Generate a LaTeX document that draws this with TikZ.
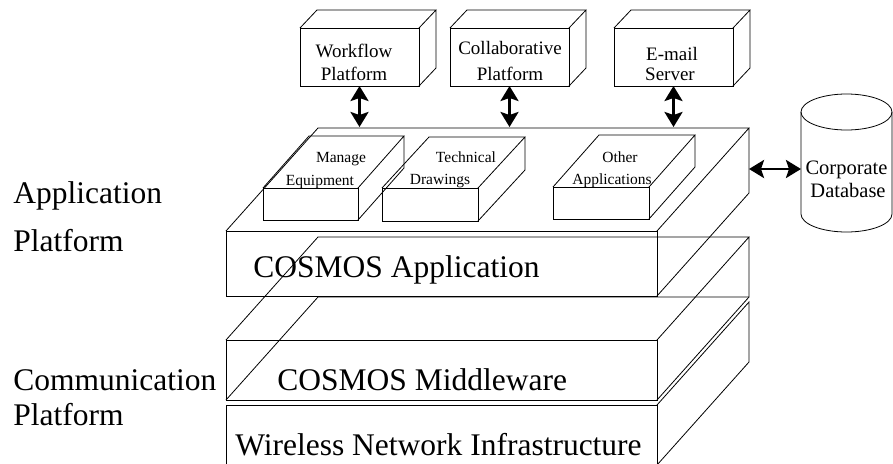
\documentclass[tikz,border=0pt]{standalone}
\usepackage{fontspec}
\setmainfont{Liberation Serif}
\usetikzlibrary{arrows.meta}
\newcommand\cubefaces[5]{% name, dx, dy, w, h
  \draw (#1.north west) -- ++(#2,#3) -- ++(#4,0) -- (#1.north east)
        (#1.north east) ++(#2,#3) -- ++(0,#5) -- (#1.south east);}
\begin{document}
\begin{tikzpicture}[x=1pt,y=-1pt, line width=0.8pt,
  face/.style={draw, rectangle, inner sep=0pt, outer sep=0pt},
  big/.style={font=\fontsize{31.5}{36}\selectfont, inner sep=0pt, anchor=base west},
  mid/.style={font=\fontsize{19}{22}\selectfont, inner sep=0pt, anchor=base},
  small/.style={font=\fontsize{15.5}{18}\selectfont, inner sep=0pt, anchor=base},
  dbt/.style={font=\fontsize{20.5}{24}\selectfont, inner sep=0pt, anchor=base},
  dblarrow/.style={line width=2.8pt, {Stealth[length=15pt,width=18pt,inset=3pt]}-{Stealth[length=15pt,width=18pt,inset=3pt]}}]
\useasboundingbox (0,0) rectangle (893,463);

% top boxes
\node[face, minimum width=119pt, minimum height=58pt] (wf) at (359.5,57) {};
\cubefaces{wf}{17}{-18}{119}{58}
\node[face, minimum width=119pt, minimum height=58pt] (cp) at (509.5,57) {};
\cubefaces{cp}{17}{-18}{119}{58}
\node[face, minimum width=119pt, minimum height=58pt] (em) at (673.5,57) {};
\cubefaces{em}{17}{-18}{119}{58}

% slabs
\node[face, minimum width=431pt, minimum height=65pt] (app) at (441.5,263.5) {};
\cubefaces{app}{92}{-103}{431}{65}
\node[face, minimum width=431pt, minimum height=60pt] (mw) at (441.5,370) {};
\cubefaces{mw}{92}{-103}{431}{60}
\draw (mw.south west) -- ++(92,-103) -- ++(431,0);
\node[face, minimum width=431pt, minimum height=60pt] (wl) at (441.5,435) {};
\draw (wl.north east) -- ++(92,-103) -- ++(0,60) -- (wl.south east);

% small application boxes
\node[face, minimum width=95pt, minimum height=32pt] (me) at (310.5,204) {};
\cubefaces{me}{46}{-52}{95}{32}
\node[face, minimum width=96pt, minimum height=33pt] (td) at (430,204.5) {};
\cubefaces{td}{47}{-51}{96}{33}
\node[face, minimum width=96pt, minimum height=32pt] (oa) at (601,203) {};
\cubefaces{oa}{46}{-52}{96}{32}

% database cylinder
\draw (846.5,112) ellipse [x radius=45.5, y radius=18];
\draw (801,112) -- (801,214) arc[start angle=180, end angle=0, x radius=45.5, y radius=18] -- (892,112);
\coordinate (dbin) at (801,169);

% arrows
\coordinate (apptop) at (318,127);
\coordinate (appside) at (749,169);
\draw[dblarrow] (wf.south) -- (wf.south |- apptop);
\draw[dblarrow] (cp.south) -- (cp.south |- apptop);
\draw[dblarrow] (em.south) -- (em.south |- apptop);
\draw[dblarrow] (appside) -- (dbin);

% texts
\node[mid] (wf1) at (354,57) {Workflow};
\node[mid] (wf2) at (354,80) {Platform};
\node[mid] (cp1) at (510,54) {Collaborative};
\node[mid] (cp2) at (510,80) {Platform};
\node[mid] (em1) at (672,60) {E-mail};
\node[mid] (em2) at (670,80) {Server};
\node[small] (me1) at (341,162) {Manage};
\node[small] (me2) at (320,185) {Equipment};
\node[small] (td1) at (466,162) {Technical};
\node[small] (td2) at (440,184) {Drawings};
\node[small] (oa1) at (620,162) {Other};
\node[small] (oa2) at (612,184) {Applications};
\node[dbt] (db1) at (846.5,174) {Corporate};
\node[dbt] (db2) at (848,197) {Database};
\node[big] (l1) at (13,203) {Application};
\node[big] (l2) at (13,251) {Platform};
\node[big] (l3) at (13,390) {Communication};
\node[big] (l4) at (13,425) {Platform};
\node[big] (ca) at (253,277) {COSMOS Application};
\node[big] (cm) at (277,390) {COSMOS Middleware};
\node[big] (cw) at (235,455) {Wireless Network Infrastructure};
\end{tikzpicture}
\end{document}
